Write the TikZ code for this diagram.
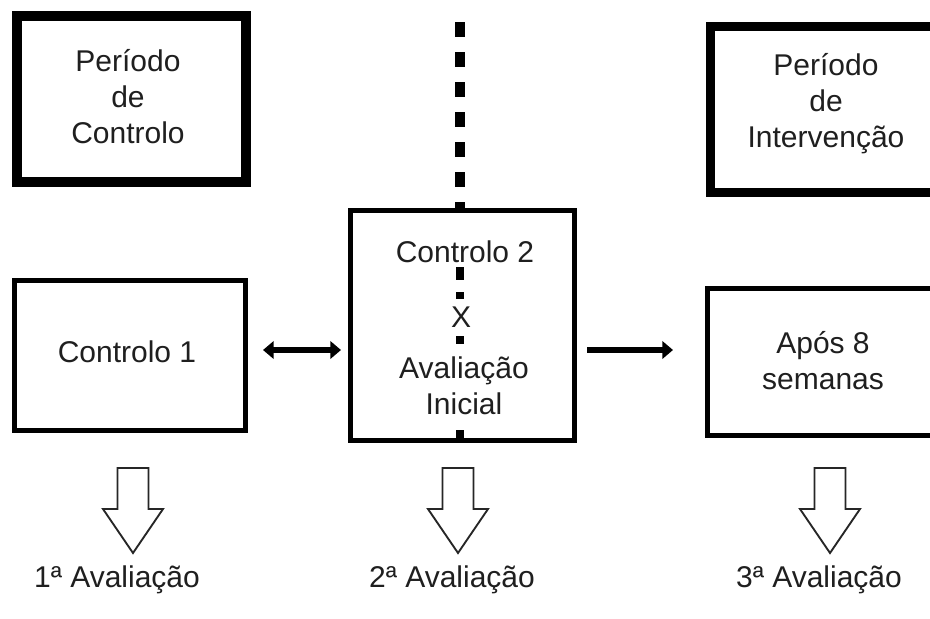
\documentclass[tikz,border=0pt]{standalone}
\usepackage{fontspec}
\setmainfont{Liberation Sans}
\usetikzlibrary{arrows.meta}
\newcommand\HollowArr[2]{%
  \draw[hollow] (#1-15.5,468) -- (#1+15.5,468) -- (#1+15.5,509) -- (#1+30,509)
    -- (#1,553) -- (#1-30,509) -- (#1-15.5,509) -- cycle;
  \coordinate (#2) at (#1,553);}
\begin{document}
\begin{tikzpicture}[x=0.75pt,y=-0.75pt,
  >={Triangle[length=8pt,width=13pt]},
  txt/.style={font=\fontsize{22.5}{27}\selectfont, text=black!88, align=center, inner sep=1pt},
  heavybox/.style={draw, line width=7pt, inner sep=0pt},
  thinbox/.style={draw, line width=3.75pt, inner sep=0pt},
  hollow/.style={draw=black!85, line width=1.4pt, fill=white, line join=miter},
  bar/.style={line width=4.5pt, draw=black},
  dots/.style={line width=7.5pt, dash pattern=on 11.25pt off 11.25pt},
  seg/.style={line width=6.5pt}]
\useasboundingbox (0,0) rectangle (930,618);
\clip (0,0) rectangle (930,618);
\fill[white] (0,0) rectangle (930,618);

% boxes
\node[heavybox, minimum width=229*0.75pt, minimum height=166*0.75pt] (pc) at (131.5,99) {};
\node[thinbox, minimum width=231*0.75pt, minimum height=150*0.75pt] (c1) at (130,355.5) {};
\node[heavybox, minimum width=250*0.75pt, minimum height=166*0.75pt] (pi) at (835.5,109.5) {};
\node[thinbox, minimum width=250*0.75pt, minimum height=147*0.75pt] (ap) at (832.5,361.5) {};
\node[thinbox, minimum width=224*0.75pt, minimum height=230*0.75pt] (cb) at (462.5,325.5) {};

% dotted vertical line
\coordinate (dtop) at (460,22);
\draw[dots] (dtop) -- (dtop |- cb.north);
\draw[seg] (460,267) -- (460,280);
\draw[seg] (460,292) -- (460,299);
\draw[seg] (460,336) -- (460,344);
\draw[seg] (460,430) -- (cb.south -| 460,0);

% texts
\node[txt] (tpc) at (128,97) {Período\\de\\Controlo};
\node[txt] (tc1) at (127,352) {Controlo 1};
\node[txt] (tpi) at (826,104) {Período\\de\\Intervenção};
\node[txt] (tap) at (823,361) {Após 8\\semanas};
\node[txt] (tc2) at (465,252) {Controlo 2};
\node[txt, inner sep=0pt] (tx) at (461,317) {X};
\node[txt] (tav) at (464,386) {Avaliação\\Inicial};

% connectors
\draw[bar, <->, shorten <=15*0.75pt, shorten >=7*0.75pt] (c1.east |- 0,350) -- (cb.west |- 0,350);
\draw[bar, ->, shorten <=10*0.75pt, shorten >=32*0.75pt] (cb.east |- 0,350) -- (ap.west |- 0,350);

% hollow arrows
\HollowArr{133}{a1}
\HollowArr{458}{a2}
\HollowArr{830}{a3}

% bottom labels
\node[txt] (e1) at (117,580) {1ª Avaliação};
\node[txt] (e2) at (452,580) {2ª Avaliação};
\node[txt] (e3) at (819,580) {3ª Avaliação};
\end{tikzpicture}
\end{document}
